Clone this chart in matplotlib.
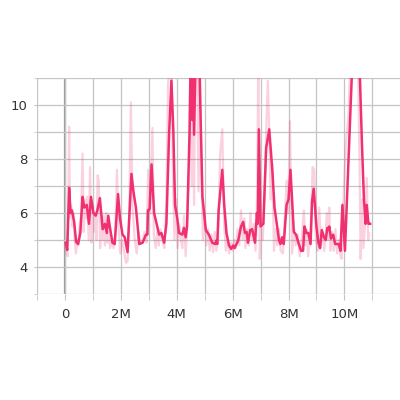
import matplotlib.pyplot as plt
from matplotlib.ticker import MultipleLocator, FuncFormatter

# smoothed curve (step in millions, value)
smooth_x = [0.03, 0.08, 0.15, 0.2, 0.25, 0.33, 0.4, 0.47, 0.55, 0.63, 0.69, 0.78, 0.86, 0.93,
            1.02, 1.1, 1.16, 1.25, 1.35, 1.43, 1.5, 1.55, 1.62, 1.7, 1.78, 1.9, 1.97,
            2.06, 2.14, 2.24, 2.38, 2.45, 2.54, 2.66, 2.78, 2.9, 2.95, 2.97,
            3.03, 3.1, 3.19, 3.29, 3.37, 3.45, 3.55, 3.63, 3.73, 3.81, 3.88, 3.94,
            4.02, 4.08, 4.2, 4.26, 4.32, 4.37, 4.46, 4.5, 4.56, 4.59, 4.62, 4.68, 4.8, 4.86, 4.92,
            5.04, 5.15, 5.27, 5.38, 5.42, 5.45, 5.5, 5.63, 5.7, 5.78, 5.87, 5.95,
            6.02, 6.07, 6.2, 6.3, 6.38, 6.44, 6.5, 6.55, 6.63, 6.7, 6.8, 6.87, 6.9, 6.94,
            7.0, 7.1, 7.2, 7.31, 7.42, 7.5, 7.58, 7.66, 7.71, 7.77, 7.83, 7.93,
            8.0, 8.07, 8.19, 8.27, 8.37, 8.45, 8.52, 8.57, 8.64, 8.71, 8.79, 8.84, 8.9,
            9.0, 9.07, 9.13, 9.19, 9.27, 9.33, 9.39, 9.43, 9.46, 9.52, 9.6, 9.67, 9.74, 9.8, 9.86, 9.93,
            10.02, 10.15, 10.27, 10.4, 10.55, 10.63, 10.7, 10.76, 10.8, 10.86, 10.92]
smooth_y = [4.89, 4.63, 6.93, 6.0, 6.1, 5.67, 4.93, 4.85, 5.26, 6.6, 6.2, 6.3, 5.6, 6.6,
            6.0, 5.9, 6.1, 6.55, 5.4, 5.6, 5.26, 5.9, 5.4, 4.9, 4.85, 6.7, 5.8,
            5.2, 5.1, 4.55, 7.45, 6.8, 6.2, 4.85, 4.9, 5.2, 5.2, 6.1,
            6.15, 7.8, 6.0, 5.55, 5.2, 5.26, 4.9, 5.6, 9.0, 10.9, 9.0, 6.3,
            5.8, 5.26, 5.2, 5.45, 5.1, 5.5, 9.0, 11.8, 9.44, 12.0, 8.9, 12.0, 12.0, 9.3, 6.6,
            5.37, 5.2, 4.9, 4.85, 4.98, 4.85, 6.1, 7.6, 6.3, 5.26, 4.8, 4.67,
            4.8, 4.7, 4.98, 5.5, 5.67, 5.26, 5.3, 4.9, 5.37, 5.4, 4.9, 6.0, 5.6, 9.1,
            5.5, 5.6, 8.4, 9.1, 7.6, 6.2, 5.6, 5.0, 4.85, 5.1, 4.85, 6.3,
            6.5, 7.6, 5.3, 5.2, 4.85, 4.6, 4.6, 5.5, 5.26, 5.26, 4.85, 6.4, 6.9,
            5.5, 4.9, 4.7, 5.37, 5.1, 5.0, 5.45, 5.37, 5.5, 5.05, 5.2, 4.85, 4.85, 4.85, 4.6, 6.3,
            4.6, 8.0, 11.2, 13.0, 11.2, 8.5, 6.5, 5.6, 6.3, 5.6, 5.6]

# raw values behind the smoothing
raw_x = [0.03, 0.06, 0.1, 0.15, 0.18, 0.22, 0.27, 0.3, 0.35, 0.39, 0.44, 0.48, 0.53, 0.58, 0.63,
         0.67, 0.72, 0.76, 0.8, 0.85, 0.9, 0.95, 0.99, 1.03, 1.08, 1.13, 1.17, 1.21, 1.26, 1.3,
         1.35, 1.39, 1.43, 1.48, 1.52, 1.57, 1.62, 1.68, 1.74, 1.8, 1.86, 1.92, 1.98, 2.04, 2.1,
         2.18, 2.24, 2.3, 2.36, 2.42, 2.5, 2.57, 2.63, 2.7, 2.78, 2.85, 2.92, 2.98, 3.05, 3.13,
         3.18, 3.25, 3.3, 3.36, 3.42, 3.5, 3.56, 3.63, 3.69, 3.76, 3.81, 3.87, 3.92, 3.98, 4.03,
         4.09, 4.15, 4.2, 4.26, 4.32, 4.38, 4.44, 4.49, 4.54, 4.58, 4.62, 4.66, 4.72, 4.78, 4.83,
         4.88, 4.94, 5.0, 5.06, 5.12, 5.18, 5.24, 5.3, 5.36, 5.42, 5.48, 5.55, 5.63, 5.7, 5.76,
         5.82, 5.88, 5.94, 6.0, 6.06, 6.12, 6.18, 6.24, 6.3, 6.36, 6.42, 6.46, 6.52, 6.58, 6.64,
         6.7, 6.76, 6.82, 6.88, 6.92, 6.97, 7.02, 7.08, 7.14, 7.2, 7.26, 7.3, 7.36, 7.42, 7.48,
         7.54, 7.6, 7.66, 7.72, 7.8, 7.87, 7.93, 7.99, 8.05, 8.13, 8.2, 8.26, 8.33, 8.4, 8.47,
         8.55, 8.6, 8.65, 8.7, 8.76, 8.82, 8.86, 8.92, 8.98, 9.04, 9.1, 9.16, 9.22, 9.28, 9.33,
         9.37, 9.42, 9.46, 9.5, 9.56, 9.62, 9.68, 9.74, 9.8, 9.86, 9.9, 9.96, 10.05, 10.15, 10.22,
         10.35, 10.48, 10.54, 10.58, 10.63, 10.68, 10.74, 10.8, 10.85, 10.88]
raw_y = [4.8, 4.5, 4.4, 9.2, 5.8, 6.3, 5.5, 6.0, 5.0, 4.5, 5.0, 4.8, 5.6, 5.9, 8.2,
         5.3, 6.5, 5.8, 6.6, 5.0, 7.7, 4.9, 6.3, 5.3, 6.0, 5.0, 7.4, 7.2, 4.7, 5.9,
         5.0, 5.9, 4.8, 6.0, 4.9, 5.3, 4.7, 5.0, 4.7, 5.2, 7.6, 5.5, 4.5, 5.0, 4.7,
         4.15, 4.2, 6.0, 10.1, 6.2, 5.0, 4.5, 5.3, 4.9, 5.0, 5.3, 4.9, 7.6, 6.0, 9.15,
         5.2, 4.7, 5.3, 4.8, 5.4, 4.9, 4.7, 6.5, 10.8, 11.5, 12.0, 7.0, 5.0, 6.5, 4.7,
         5.6, 5.0, 4.7, 5.9, 4.4, 5.9, 7.5, 12.0, 7.0, 12.0, 6.3, 12.0, 12.0, 6.8, 12.0,
         7.5, 5.0, 6.0, 4.8, 5.4, 4.6, 5.2, 4.55, 5.3, 4.6, 5.0, 8.1, 9.1, 5.5, 4.6,
         5.0, 4.5, 4.9, 4.6, 5.0, 4.7, 5.4, 4.8, 6.1, 5.0, 5.8, 4.7, 5.4, 4.8, 6.0,
         5.0, 5.6, 4.6, 6.9, 12.0, 4.3, 5.4, 5.0, 6.5, 9.0, 10.9, 9.5, 6.5, 7.8, 4.6,
         5.4, 4.8, 5.4, 4.6, 4.5, 5.8, 7.2, 6.0, 9.4, 4.5, 5.4, 4.8, 5.2, 4.4, 5.0,
         6.1, 4.8, 5.4, 4.4, 5.0, 6.0, 7.7, 7.6, 5.0, 4.6, 6.2, 4.8, 5.3, 4.6, 5.2,
         6.0, 5.0, 6.2, 4.6, 5.3, 4.6, 5.4, 4.5, 5.0, 4.4, 4.3, 6.3, 8.5, 9.7, 12.0,
         12.0, 12.0, 8.0, 4.3, 6.5, 4.7, 5.6, 7.3, 5.0, 5.26]

line_color = '#f0306f'

fig = plt.figure(figsize=(4, 4), dpi=100)
ax = fig.add_axes([0.0925, 0.265, 0.9075, 0.54])

ax.plot(raw_x, raw_y, color=line_color, alpha=0.22, linewidth=1.6, zorder=2)
ax.plot(smooth_x, smooth_y, color=line_color, linewidth=1.8, zorder=3)
ax.axvline(0, color='#999999', linewidth=1.6, zorder=1)

ax.set_xlim(-1, 11.99)
ax.set_ylim(3, 11)
ax.xaxis.set_major_locator(MultipleLocator(2))
ax.xaxis.set_minor_locator(MultipleLocator(1))
ax.yaxis.set_major_locator(MultipleLocator(2))
ax.yaxis.set_minor_locator(MultipleLocator(1))
ax.xaxis.set_major_formatter(FuncFormatter(lambda v, p: '0' if v == 0 else f'{int(v)}M'))
ax.grid(True, which='both', color='#c4c4c4', linewidth=0.9, zorder=0)
for s in ax.spines.values():
    s.set_visible(False)
ax.tick_params(which='both', color='#c4c4c4', length=4, labelcolor='#333333', labelsize=9.5)
ax.tick_params(axis='x', which='both', pad=6)
ax.tick_params(axis='y', which='both', length=2, pad=5)

fig.savefig('out.png', dpi=100)
